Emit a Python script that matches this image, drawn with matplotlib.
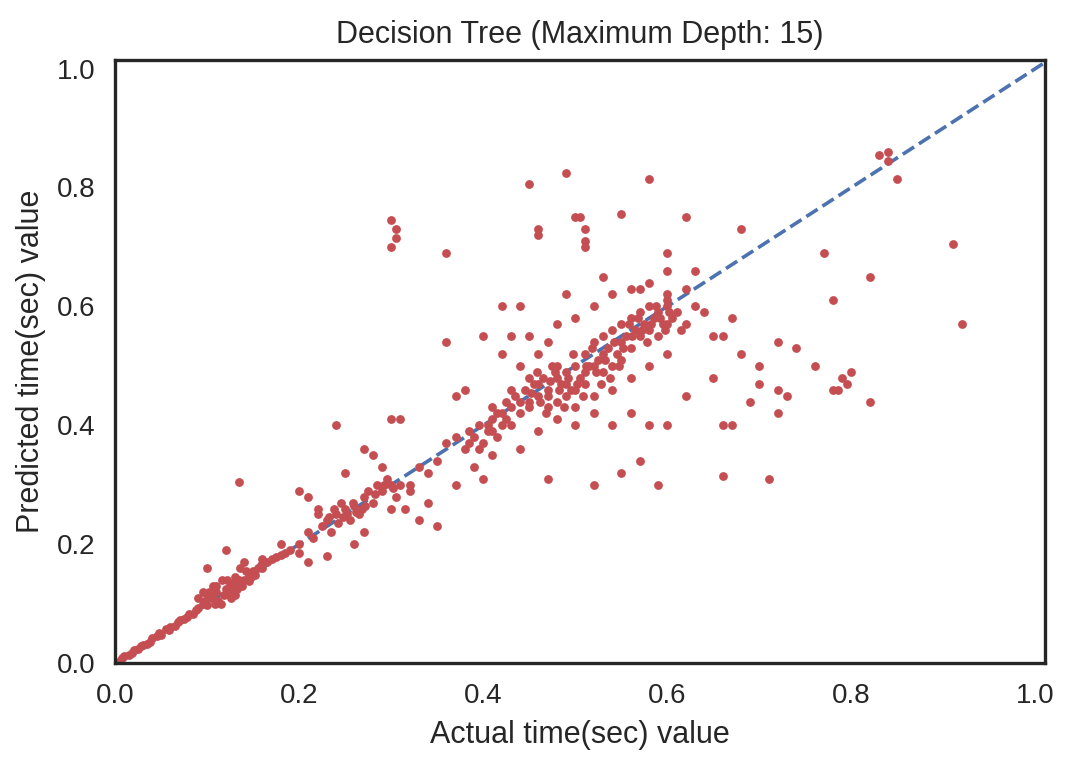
import matplotlib
matplotlib.use("Agg")
import matplotlib.pyplot as plt
import seaborn as sns

sns.set_style("white")
plt.rcParams['font.family'] = ['Liberation Sans', 'DejaVu Sans']

pts = [
(0.005,0.004),(0.01,0.012),(0.015,0.013),(0.02,0.022),(0.025,0.024),(0.03,0.031),(0.035,0.033),(0.04,0.042),(0.045,0.046),(0.05,0.048),(0.055,0.057),(0.06,0.06),(0.065,0.063),(0.07,0.072),(0.075,0.074),(0.08,0.082),(0.085,0.083),(0.09,0.093),(0.095,0.1),(0.1,0.098),(0.1,0.115),(0.105,0.11),(0.11,0.12),(0.115,0.1),(0.12,0.125),(0.125,0.13),(0.13,0.115),(0.13,0.145),(0.135,0.14),(0.14,0.14),(0.145,0.15),(0.15,0.155),(0.155,0.16),(0.16,0.16),(0.165,0.17),(0.17,0.175),(0.175,0.178),(0.18,0.182),(0.185,0.185),(0.19,0.19),(0.2,0.2),(0.12,0.19),(0.1,0.16),(0.14,0.17),(0.135,0.305),(0.09,0.11),(0.11,0.13),(0.125,0.12),(0.16,0.175),(0.18,0.2),
(0.008,0.009),(0.018,0.017),(0.028,0.029),(0.038,0.036),(0.048,0.05),(0.058,0.056),(0.068,0.07),(0.078,0.077),(0.088,0.09),(0.098,0.105),(0.108,0.1),(0.118,0.115),(0.128,0.135),(0.138,0.13),(0.148,0.145),(0.158,0.165),
(0.102,0.12),(0.112,0.105),(0.122,0.14),(0.132,0.125),(0.142,0.155),(0.152,0.148),(0.106,0.13),(0.116,0.14),(0.126,0.11),(0.136,0.16),(0.146,0.138),(0.095,0.12),
(0.2,0.185),(0.21,0.22),(0.215,0.21),(0.22,0.26),(0.225,0.23),(0.23,0.24),(0.235,0.22),(0.24,0.25),(0.245,0.27),(0.25,0.26),(0.255,0.24),(0.26,0.265),(0.265,0.25),(0.27,0.28),(0.275,0.29),(0.28,0.27),(0.285,0.3),(0.29,0.29),(0.295,0.31),(0.3,0.3),(0.305,0.28),(0.31,0.3),(0.315,0.26),(0.32,0.29),(0.33,0.24),(0.34,0.27),(0.35,0.23),(0.3,0.26),(0.29,0.33),(0.28,0.35),(0.27,0.36),(0.25,0.32),(0.24,0.4),(0.2,0.29),(0.21,0.28),(0.22,0.25),(0.23,0.18),(0.21,0.17),(0.26,0.2),(0.27,0.22),(0.3,0.41),(0.31,0.41),(0.32,0.3),(0.33,0.33),(0.3,0.745),(0.305,0.73),(0.305,0.715),(0.3,0.7),(0.36,0.69),(0.37,0.3),(0.34,0.32),(0.35,0.34),
(0.232,0.245),(0.242,0.235),(0.252,0.25),(0.262,0.255),(0.272,0.265),(0.282,0.285),(0.292,0.3),(0.302,0.295),(0.238,0.26),(0.248,0.245),(0.258,0.27),(0.268,0.26),
(0.36,0.37),(0.37,0.38),(0.38,0.36),(0.385,0.39),(0.39,0.38),(0.395,0.4),(0.4,0.37),(0.405,0.39),(0.41,0.41),(0.415,0.38),(0.42,0.42),(0.425,0.44),(0.43,0.43),(0.435,0.45),(0.44,0.42),(0.445,0.46),(0.45,0.44),(0.455,0.47),(0.46,0.45),(0.465,0.48),(0.47,0.46),(0.475,0.5),(0.48,0.44),(0.485,0.47),(0.49,0.49),(0.495,0.46),(0.5,0.5),(0.505,0.48),(0.51,0.52),(0.515,0.5),(0.52,0.54),(0.525,0.51),(0.53,0.55),(0.535,0.53),(0.54,0.56),(0.545,0.52),(0.55,0.57),(0.555,0.55),(0.56,0.58),(0.565,0.56),(0.57,0.59),(0.575,0.57),(0.58,0.6),(0.585,0.58),(0.59,0.59),(0.595,0.57),(0.6,0.6),(0.605,0.58),(0.61,0.59),(0.615,0.56),(0.62,0.57),
(0.44,0.44),(0.45,0.43),(0.46,0.47),(0.47,0.45),(0.48,0.48),(0.49,0.47),(0.5,0.46),(0.51,0.49),(0.52,0.5),(0.53,0.52),(0.54,0.5),(0.55,0.54),(0.56,0.53),(0.57,0.55),(0.58,0.56),(0.59,0.55),(0.6,0.57),(0.43,0.46),(0.42,0.4),(0.41,0.39),(0.47,0.43),(0.49,0.45),(0.51,0.47),(0.53,0.49),(0.55,0.51),
(0.452,0.455),(0.462,0.44),(0.472,0.475),(0.482,0.46),(0.492,0.48),(0.502,0.47),(0.512,0.5),(0.522,0.49),(0.532,0.51),(0.542,0.54),(0.552,0.53),(0.562,0.55),(0.572,0.56),(0.582,0.57),(0.592,0.58),(0.602,0.59),(0.458,0.49),(0.468,0.42),(0.478,0.49),(0.488,0.43),(0.498,0.52),(0.508,0.45),(0.518,0.53),(0.528,0.47),(0.538,0.48),(0.548,0.5),(0.558,0.57),(0.568,0.58),(0.578,0.54),(0.588,0.6),(0.598,0.56),(0.385,0.37),(0.395,0.36),(0.405,0.4),(0.415,0.42),(0.425,0.41),
(0.36,0.54),(0.38,0.46),(0.39,0.33),(0.4,0.31),(0.41,0.35),(0.42,0.52),(0.43,0.55),(0.44,0.5),(0.45,0.55),(0.46,0.52),(0.47,0.54),(0.48,0.57),(0.5,0.58),(0.52,0.6),(0.54,0.62),(0.56,0.63),(0.6,0.66),(0.6,0.62),(0.62,0.63),(0.63,0.6),(0.64,0.59),(0.65,0.55),(0.66,0.55),(0.67,0.58),(0.68,0.52),(0.7,0.5),(0.72,0.54),(0.74,0.53),(0.7,0.47),(0.72,0.46),(0.67,0.4),(0.69,0.44),(0.72,0.42),(0.65,0.48),(0.62,0.45),(0.6,0.4),(0.58,0.4),(0.56,0.42),(0.54,0.4),(0.52,0.42),(0.5,0.4),(0.48,0.41),(0.46,0.39),(0.47,0.31),(0.52,0.3),(0.55,0.32),(0.59,0.3),(0.57,0.34),(0.66,0.315),(0.71,0.31),(0.6,0.52),(0.58,0.5),(0.56,0.48),(0.54,0.46),(0.52,0.45),(0.5,0.43),(0.48,0.5),(0.45,0.48),(0.43,0.4),(0.41,0.43),(0.44,0.36),(0.37,0.45),(0.4,0.55),(0.44,0.6),(0.42,0.6),(0.49,0.62),(0.58,0.64),
(0.45,0.805),(0.49,0.825),(0.5,0.75),(0.505,0.75),(0.46,0.73),(0.46,0.72),(0.51,0.71),(0.51,0.73),(0.51,0.7),(0.55,0.755),(0.58,0.815),(0.62,0.75),(0.6,0.69),(0.68,0.73),(0.77,0.69),(0.83,0.855),(0.84,0.86),(0.84,0.845),(0.85,0.815),(0.91,0.705),(0.92,0.57),(0.78,0.61),(0.82,0.65),(0.8,0.49),(0.79,0.48),(0.795,0.47),(0.78,0.46),(0.785,0.46),(0.82,0.44),(0.76,0.5),(0.73,0.45),(0.66,0.4),(0.53,0.65),(0.57,0.63),(0.6,0.61),(0.63,0.66),
]
actual = [p[0] for p in pts]
predicted = [p[1] for p in pts]

fig, ax = plt.subplots(figsize=(5.33, 3.82), dpi=200)
ax.plot([0, 1.01], [0, 1.01], "--", color="#4c72b0", lw=1.3, zorder=1)
ax.scatter(actual, predicted, s=10, color="#c44e52", zorder=2, linewidths=0)
ax.set_xlim(0, 1.01)
ax.set_ylim(0, 1.015)
ax.set_xticks([0, 0.2, 0.4, 0.6, 0.8, 1.0])
ax.set_yticks([0, 0.2, 0.4, 0.6, 0.8, 1.0])
ax.tick_params(labelsize=10)
for s in ax.spines.values():
    s.set_color("#262626"); s.set_linewidth(1.2)
ax.set_title("Decision Tree (Maximum Depth: 15)", fontsize=11)
ax.set_xlabel("Actual time(sec) value", fontsize=11)
ax.set_ylabel("Predicted time(sec) value", fontsize=11)
fig.subplots_adjust(left=0.108, right=0.98, bottom=0.132, top=0.922)
fig.savefig("out.png", dpi=200)
